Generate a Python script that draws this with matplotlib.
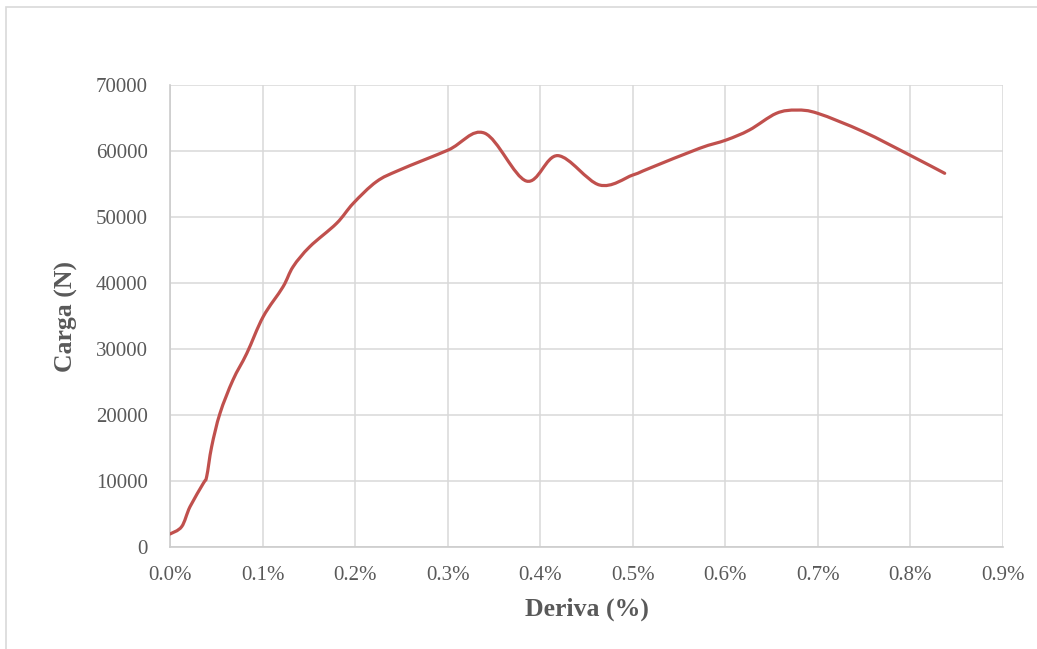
import numpy as np
import matplotlib
matplotlib.use("Agg")
import matplotlib.pyplot as plt
from matplotlib.path import Path
from matplotlib.patches import PathPatch, Rectangle

# Drift (%) and load (N) readings
deriva = [0.0, 0.0126, 0.0216, 0.036, 0.0396, 0.045, 0.054, 0.068, 0.083, 0.1007,
          0.122, 0.133, 0.151, 0.180, 0.198, 0.223, 0.248, 0.3006, 0.340,
          0.385, 0.419, 0.464, 0.500, 0.518, 0.572, 0.601, 0.626, 0.655,
          0.677, 0.700, 0.749, 0.799, 0.837]
carga = [1970, 3080, 6100, 9650, 10650, 15200, 20250, 25300, 29350, 34900,
         39400, 42470, 45500, 49040, 52070, 55350, 57120, 60150, 62700,
         55450, 59300, 54850, 56360, 57380, 60400, 61670, 63180, 65700,
         66200, 65700, 62930, 59400, 56620]

x_ticks = [0.0, 0.1, 0.2, 0.3, 0.4, 0.5, 0.6, 0.7, 0.8, 0.9]
x_tick_labels = ["0.0%", "0.1%", "0.2%", "0.3%", "0.4%", "0.5%", "0.6%", "0.7%", "0.8%", "0.9%"]
y_ticks = [0, 10000, 20000, 30000, 40000, 50000, 60000, 70000]
y_tick_labels = ["0", "10000", "20000", "30000", "40000", "50000", "60000", "70000"]

LINE = "#c0504d"
GRID = "#d9d9d9"
TEXT = "#595959"

plt.rcParams["font.family"] = ["Liberation Serif", "DejaVu Serif"]

fig = plt.figure(figsize=(10.37, 6.49), dpi=100)
ax = fig.add_axes([170 / 1037, 1 - 547 / 649, (1003 - 170) / 1037, (547 - 85) / 649])

ax.set_xlim(0, 0.9)
ax.set_ylim(0, 70000)


def smooth_path(x, y):
    """Catmull-Rom style cubic Bezier segments through the points (smoothed line)."""
    px = np.asarray(x, float)
    py = np.asarray(y, float)
    n = len(px)
    verts = [(px[0], py[0])]
    codes = [Path.MOVETO]
    for i in range(n - 1):
        i0 = max(i - 1, 0)
        i3 = min(i + 2, n - 1)
        c1 = (px[i] + (px[i + 1] - px[i0]) / 6, py[i] + (py[i + 1] - py[i0]) / 6)
        c2 = (px[i + 1] - (px[i3] - px[i]) / 6, py[i + 1] - (py[i3] - py[i]) / 6)
        verts += [c1, c2, (px[i + 1], py[i + 1])]
        codes += [Path.CURVE4] * 3
    return Path(verts, codes)


ax.add_patch(PathPatch(smooth_path(deriva, carga), fill=False, edgecolor=LINE,
                       linewidth=2.3, capstyle="round", joinstyle="round", zorder=3))

ax.set_xticks(x_ticks)
ax.set_xticklabels(x_tick_labels)
ax.set_yticks(y_ticks)
ax.set_yticklabels(y_tick_labels)

ax.grid(True, color=GRID, linewidth=1.1, zorder=0)
ax.set_axisbelow(True)
for side in ("top", "right"):
    ax.spines[side].set_visible(False)
for side in ("left", "bottom"):
    ax.spines[side].set_color("#cccccc")
    ax.spines[side].set_linewidth(1.2)

ax.tick_params(axis="both", length=0, labelsize=15, labelcolor=TEXT)
ax.tick_params(axis="x", pad=14)
ax.tick_params(axis="y", pad=16)

ax.set_xlabel("Deriva (%)", fontsize=18.5, fontweight="bold", color=TEXT, labelpad=9)
ax.set_ylabel("Carga (N)", fontsize=18.5, fontweight="bold", color=TEXT, labelpad=13)

# Outer chart frame
fig.patches.append(Rectangle((6 / 1037, -0.05), 1.1, 1 - 7 / 649 + 0.05,
                             transform=fig.transFigure, fill=False,
                             edgecolor="#d9d9d9", linewidth=1.2))

fig.savefig("out.png", dpi=100, facecolor="white")
